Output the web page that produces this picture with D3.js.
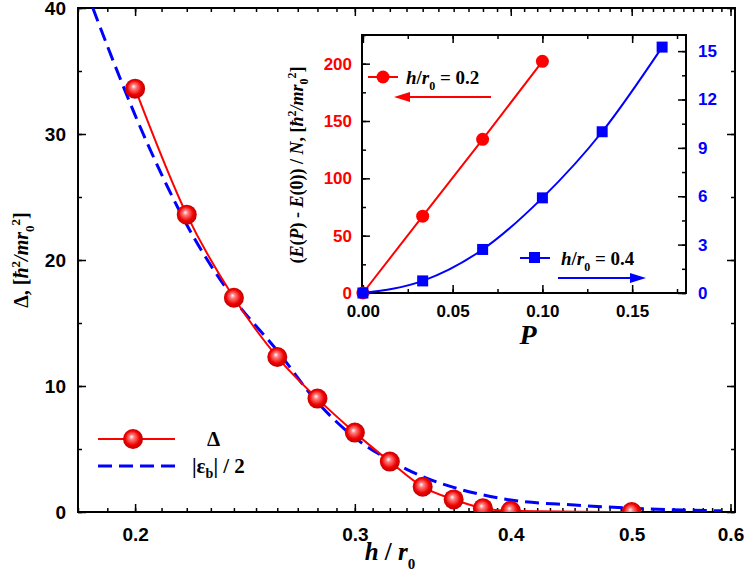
<!DOCTYPE html>
<html><head><meta charset="utf-8">
<script src="https://cdn.jsdelivr.net/npm/d3@7"></script>
<style>body{margin:0;background:#fff}</style>
</head><body><svg id="c" width="747" height="579" font-family="Arial, Liberation Sans, sans-serif" font-weight="bold"></svg>
<script>
// Main chart data
const deltaH = [0.2,0.22,0.24,0.26,0.28,0.30,0.32,0.34,0.36,0.38,0.40,0.5];
const deltaV = [33.6,23.6,17,12.3,9,6.3,4,2,1,0.3,0.1,0];
const ebH = [0.185,0.19,0.2,0.21,0.22,0.24,0.26,0.28,0.3,0.32,0.34,0.36,0.4,0.45,0.5,0.55,0.59];
const ebV = [40,37,31.5,26.8,22.8,16.9,12.8,8.7,5.9,4.1,2.8,1.95,0.95,0.55,0.3,0.15,0.1];
const mainXTicks = [0.2,0.3,0.4,0.5,0.6];
const mainYTicks = [0,10,20,30,40];
// Inset data
const insP = [0,0.0333,0.0667,0.1];
const insRed = [0,67,134,202];
const insPB = [0,0.0333,0.0667,0.1,0.1333,0.1667];
const insBlue = [0,0.75,2.7,5.9,10.0,15.25];
const insXTicks = [0,0.05,0.10,0.15];
const insLTicks = [0,50,100,150,200];
const insRTicks = [0,3,6,9,12,15];

const svg = d3.select("#c");
const defs = svg.append("defs");
const g = defs.append("radialGradient").attr("id","ball").attr("cx","0.5").attr("cy","0.5").attr("r","0.6").attr("fx","0.42").attr("fy","0.38");
g.append("stop").attr("offset","0").attr("stop-color","#fff");
g.append("stop").attr("offset","0.2").attr("stop-color","#ff8080");
g.append("stop").attr("offset","0.6").attr("stop-color","#f00000");
g.append("stop").attr("offset","1").attr("stop-color","#a00000");

const L=78,R=735,T=8,B=512;
const x = d3.scaleLog().domain([0.18,0.605]).range([L,R]);
const y = d3.scaleLinear().domain([0,40]).range([B,T]);
defs.append("clipPath").attr("id","mc").append("rect").attr("x",L).attr("y",T).attr("width",R-L).attr("height",B-T);

const minor = d3.range(0.18,0.6001,0.01).map(v=>+v.toFixed(2));
const main = svg.append("g");
main.append("g").attr("transform",`translate(0,${B})`).call(d3.axisBottom(x).tickValues(minor).tickSize(-4).tickFormat(""));
main.append("g").attr("transform",`translate(0,${T})`).call(d3.axisTop(x).tickValues(minor).tickSize(-4).tickFormat(""));
main.append("g").attr("transform",`translate(0,${B})`).call(d3.axisBottom(x).tickValues(mainXTicks).tickSize(-8).tickPadding(16).tickFormat(d3.format(".1f")));
main.append("g").attr("transform",`translate(0,${T})`).call(d3.axisTop(x).tickValues(mainXTicks).tickSize(-8).tickFormat(""));
main.append("g").attr("transform",`translate(${L},0)`).call(d3.axisLeft(y).tickValues(d3.range(0,41,5)).tickSize(-4).tickFormat(""));
main.append("g").attr("transform",`translate(${L},0)`).call(d3.axisLeft(y).tickValues(mainYTicks).tickSize(-8).tickPadding(12));
main.append("g").attr("transform",`translate(${R},0)`).call(d3.axisRight(y).tickValues(d3.range(0,41,5)).tickSize(-4).tickFormat(""));
main.append("g").attr("transform",`translate(${R},0)`).call(d3.axisRight(y).tickValues(mainYTicks).tickSize(-8).tickFormat(""));
main.selectAll(".domain").remove();
main.selectAll(".tick line").attr("stroke","#000").attr("stroke-width",1.5);
main.selectAll(".tick text").attr("font-size",19).attr("fill","#000").attr("font-family","Arial, Liberation Sans, sans-serif");
svg.append("rect").attr("x",L).attr("y",T).attr("width",R-L).attr("height",B-T).attr("fill","none").attr("stroke","#000").attr("stroke-width",2);

const mc = svg.append("g").attr("clip-path","url(#mc)");
mc.append("path").datum(ebH.map((h,i)=>[h,ebV[i]])).attr("fill","none").attr("stroke","#0000ff").attr("stroke-width",3).attr("stroke-dasharray","14,7")
  .attr("d",d3.line().x(d=>x(d[0])).y(d=>y(d[1])).curve(d3.curveMonotoneX));
mc.append("path").datum(deltaH.map((h,i)=>[h,deltaV[i]])).attr("fill","none").attr("stroke","#f00").attr("stroke-width",2)
  .attr("d",d3.line().x(d=>x(d[0])).y(d=>y(d[1])).curve(d3.curveMonotoneX));
mc.selectAll("circle.b").data(deltaH.map((h,i)=>[h,deltaV[i]])).join("circle").attr("cx",d=>x(d[0])).attr("cy",d=>y(d[1])).attr("r",10).attr("fill","url(#ball)");

const serif="Times New Roman, Liberation Serif, serif";
svg.append("text").attr("transform","translate(28,260) rotate(-90)").attr("text-anchor","middle").attr("font-size",20).attr("font-family",serif)
  .html('Δ, [<tspan font-style="italic">ħ</tspan><tspan dy="-8" font-size="13">2</tspan><tspan dy="8" font-style="italic">/mr</tspan><tspan dy="6" font-size="13">0</tspan><tspan dy="-14" font-size="13">2</tspan><tspan dy="8">]</tspan>');
svg.append("text").attr("x",390).attr("y",560).attr("text-anchor","middle").attr("font-size",25).attr("font-family",serif)
  .html('<tspan font-style="italic">h</tspan> / <tspan font-style="italic">r</tspan><tspan dy="9" font-size="15">0</tspan>');

// legend
svg.append("line").attr("x1",98).attr("x2",175).attr("y1",439).attr("y2",439).attr("stroke","#f00").attr("stroke-width",2);
svg.append("circle").attr("cx",133).attr("cy",439).attr("r",10).attr("fill","url(#ball)");
svg.append("text").attr("x",207).attr("y",446).attr("font-size",21).attr("font-family",serif).text("Δ");
svg.append("line").attr("x1",98).attr("x2",180).attr("y1",466).attr("y2",466).attr("stroke","#00f").attr("stroke-width",3).attr("stroke-dasharray","14,7");
svg.append("text").attr("x",192).attr("y",473).attr("font-size",21).attr("font-family",serif).html('|ε<tspan dy="5" font-size="14">b</tspan><tspan dy="-5">| / 2</tspan>');

// inset
const iL=362,iR=686,iT=35,iB=293;
const ix = d3.scaleLinear().domain([-0.0005,0.18]).range([iL,iR]);
const iyl = d3.scaleLinear().domain([0,225]).range([iB,iT]);
const iyr = d3.scaleLinear().domain([0,16]).range([iB,iT]);
const ins = svg.append("g");
const ax = (gen, tx, vals, size, fmt, pad) => { const a=ins.append("g").attr("transform",tx).call(gen.tickValues(vals).tickSize(size).tickPadding(pad||6).tickFormat(fmt)); a.select(".domain").remove(); return a;};
ax(d3.axisBottom(ix),`translate(0,${iB})`,d3.range(0,0.176,0.025),-4,"");
const bx=ax(d3.axisBottom(ix),`translate(0,${iB})`,insXTicks,-8,d3.format(".2f"),12);
ax(d3.axisTop(ix),`translate(0,${iT})`,d3.range(0,0.176,0.025),-4,"");
ax(d3.axisTop(ix),`translate(0,${iT})`,insXTicks,-8,"");
ax(d3.axisLeft(iyl),`translate(${iL},0)`,d3.range(0,226,25),-4,"");
const ly=ax(d3.axisLeft(iyl),`translate(${iL},0)`,insLTicks,-8,d3.format("d"),10);
ax(d3.axisRight(iyr),`translate(${iR},0)`,d3.range(0,16,1.5),-4,"");
const ry=ax(d3.axisRight(iyr),`translate(${iR},0)`,insRTicks,-8,d3.format("d"),12);
ins.selectAll(".tick line").attr("stroke","#000").attr("stroke-width",1.5);
ins.selectAll(".tick text").attr("font-size",17).attr("font-family","Arial, Liberation Sans, sans-serif");
bx.selectAll("text").attr("fill","#000");
ly.selectAll("text").attr("fill","#f00");
ry.selectAll("text").attr("fill","#00f");
ins.append("rect").attr("x",iL).attr("y",iT).attr("width",iR-iL).attr("height",iB-iT).attr("fill","none").attr("stroke","#000").attr("stroke-width",2);

ins.append("path").datum(insP.map((p,i)=>[p,insRed[i]])).attr("fill","none").attr("stroke","#f00").attr("stroke-width",2)
  .attr("d",d3.line().x(d=>ix(d[0])).y(d=>iyl(d[1])));
ins.selectAll("circle.r").data(insP.map((p,i)=>[p,insRed[i]])).join("circle").attr("cx",d=>ix(d[0])).attr("cy",d=>iyl(d[1])).attr("r",6.5).attr("fill","#f00");
ins.append("path").datum(insPB.map((p,i)=>[p,insBlue[i]])).attr("fill","none").attr("stroke","#00f").attr("stroke-width",2)
  .attr("d",d3.line().x(d=>ix(d[0])).y(d=>iyr(d[1])).curve(d3.curveMonotoneX));
ins.selectAll("rect.s").data(insPB.map((p,i)=>[p,insBlue[i]])).join("rect").attr("x",d=>ix(d[0])-5.5).attr("y",d=>iyr(d[1])-5.5).attr("width",11).attr("height",11).attr("fill","#00f");

// inset legends
ins.append("line").attr("x1",368).attr("x2",398).attr("y1",77).attr("y2",77).attr("stroke","#f00").attr("stroke-width",2);
ins.append("circle").attr("cx",383).attr("cy",77).attr("r",6.5).attr("fill","#f00");
ins.append("text").attr("x",406).attr("y",84).attr("font-size",19).attr("font-family",serif)
  .html('<tspan font-style="italic">h</tspan>/<tspan font-style="italic">r</tspan><tspan dy="6" font-size="12">0</tspan><tspan dy="-6"> = 0.2</tspan>');
ins.append("line").attr("x1",491).attr("x2",405).attr("y1",97).attr("y2",97).attr("stroke","#f00").attr("stroke-width",2);
ins.append("path").attr("d","M394,97 L410,92 L410,102 Z").attr("fill","#f00");
ins.append("line").attr("x1",520).attr("x2",550).attr("y1",258).attr("y2",258).attr("stroke","#00f").attr("stroke-width",2);
ins.append("rect").attr("x",529).attr("y",252).attr("width",11).attr("height",11).attr("fill","#00f");
ins.append("text").attr("x",561).attr("y",265).attr("font-size",19).attr("font-family",serif)
  .html('<tspan font-style="italic">h</tspan>/<tspan font-style="italic">r</tspan><tspan dy="6" font-size="12">0</tspan><tspan dy="-6"> = 0.4</tspan>');
ins.append("line").attr("x1",558).attr("x2",632).attr("y1",278).attr("y2",278).attr("stroke","#00f").attr("stroke-width",2);
ins.append("path").attr("d","M646,278 L630,273 L630,283 Z").attr("fill","#00f");

ins.append("text").attr("transform","translate(303,165) rotate(-90)").attr("text-anchor","middle").attr("font-size",18).attr("font-family",serif)
  .html('(<tspan font-style="italic">E</tspan>(<tspan font-style="italic">P</tspan>) - <tspan font-style="italic">E</tspan>(0)) / <tspan font-style="italic">N</tspan>,  [<tspan font-style="italic">ħ</tspan><tspan dy="-7" font-size="12">2</tspan><tspan dy="7" font-style="italic">/mr</tspan><tspan dy="5" font-size="12">0</tspan><tspan dy="-12" font-size="12">2</tspan><tspan dy="7">]</tspan>');
ins.append("text").attr("x",528).attr("y",344).attr("text-anchor","middle").attr("font-size",28).attr("font-style","italic").attr("font-family",serif).text("P");
</script></body></html>
